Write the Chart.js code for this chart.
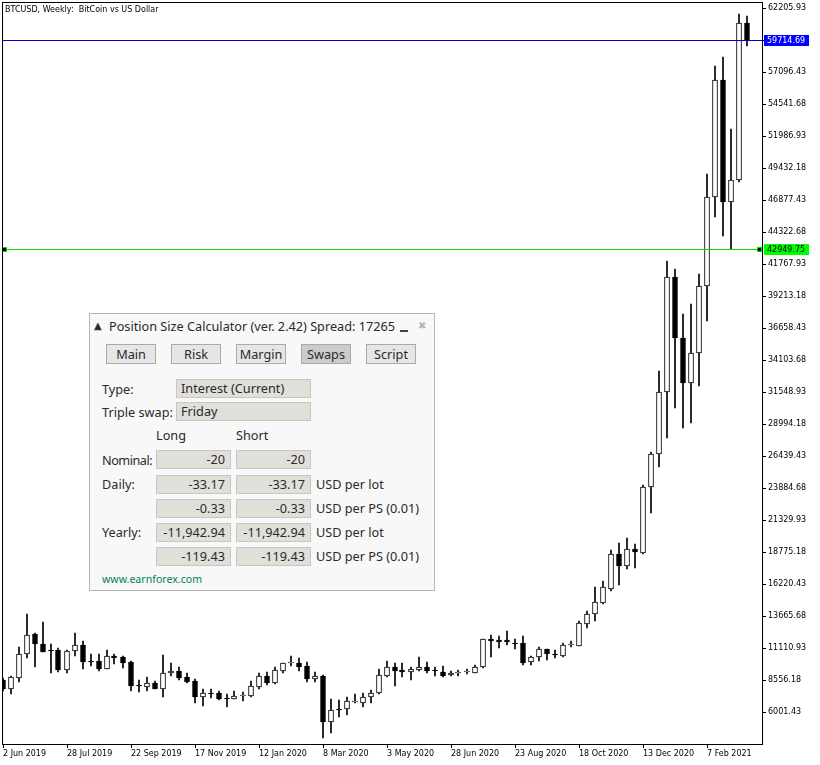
<!DOCTYPE html>
<html>
<head>
<meta charset="utf-8">
<title>BTCUSD, Weekly</title>
<script src="https://cdn.jsdelivr.net/npm/chart.js@4.4.1/dist/chart.umd.min.js"></script>
<style>
  html, body { margin: 0; padding: 0; background: #fff; }
  #wrap { position: relative; width: 820px; height: 765px; overflow: hidden; }
  #chart { position: absolute; left: 0; top: 0; }
  .panel { position: absolute; left: 89px; top: 313px; width: 346px; height: 278px; box-sizing: border-box;
           background: #f8f8f8; border: 1px solid #b4b4b4; }
  .t, .btn, .fld { position: absolute; white-space: nowrap; font-family: "Noto Sans", sans-serif;
                   font-size: 12.7px; color: #2a2a2a; }
  .t { line-height: 16px; }
  .btn { box-sizing: border-box; height: 20px; width: 50px; line-height: 18px; text-align: center;
         background: #e6e6e6; border: 1px solid #aaa; }
  .btn.on { background: #cbcbcb; }
  .fld { box-sizing: border-box; height: 19px; line-height: 17px; background: #e0dfd8; border: 1px solid #c6c6c6; }
  .fld.txt { padding-left: 4px; width: 135px; left: 176px; }
  .fld.num { text-align: right; padding-right: 5px; width: 75px; }
  .url { color: #00805c; font-size: 10.6px; }
</style>
</head>
<body>
<div id="wrap">
  <canvas id="chart" width="820" height="765"></canvas>

  <div class="panel"></div>
  <div class="t" style="left:94px;top:318px;font-family:'DejaVu Sans';font-size:10px;">▲</div>
  <div class="t" style="left:109px;top:318px;">Position Size Calculator (ver. 2.42) Spread: 17265</div>
  <div style="position:absolute;left:400px;top:330px;width:8px;height:2px;background:#444;"></div>
  <div class="t" style="left:418px;top:318px;font-family:'DejaVu Sans';font-size:10px;color:#b4b4b4;">✖</div>

  <div class="btn" style="left:106px;top:344px;">Main</div>
  <div class="btn" style="left:171px;top:344px;">Risk</div>
  <div class="btn" style="left:236px;top:344px;">Margin</div>
  <div class="btn on" style="left:301px;top:344px;">Swaps</div>
  <div class="btn" style="left:366px;top:344px;">Script</div>

  <div class="t" style="left:102px;top:381px;">Type:</div>
  <div class="fld txt" style="top:379px;">Interest (Current)</div>
  <div class="t" style="left:102px;top:404px;">Triple swap:</div>
  <div class="fld txt" style="top:402px;">Friday</div>

  <div class="t" style="left:156px;top:427px;">Long</div>
  <div class="t" style="left:236px;top:427px;">Short</div>

  <div class="t" style="left:102px;top:452px;letter-spacing:-0.5px;">Nominal:</div>
  <div class="fld num" style="left:156px;top:450px;">-20</div>
  <div class="fld num" style="left:236px;top:450px;">-20</div>

  <div class="t" style="left:102px;top:476px;">Daily:</div>
  <div class="fld num" style="left:156px;top:475px;">-33.17</div>
  <div class="fld num" style="left:236px;top:475px;">-33.17</div>
  <div class="t" style="left:316px;top:476px;">USD per lot</div>

  <div class="fld num" style="left:156px;top:499px;">-0.33</div>
  <div class="fld num" style="left:236px;top:499px;">-0.33</div>
  <div class="t" style="left:316px;top:500px;">USD per PS (0.01)</div>

  <div class="t" style="left:102px;top:524px;">Yearly:</div>
  <div class="fld num" style="left:156px;top:523px;">-11,942.94</div>
  <div class="fld num" style="left:236px;top:523px;">-11,942.94</div>
  <div class="t" style="left:316px;top:524px;">USD per lot</div>

  <div class="fld num" style="left:156px;top:547px;">-119.43</div>
  <div class="fld num" style="left:236px;top:547px;">-119.43</div>
  <div class="t" style="left:316px;top:548px;">USD per PS (0.01)</div>

  <div class="t url" style="left:102px;top:571px;">www.earnforex.com</div>
</div>

<script>
// --- weekly BTCUSD bars, 2 Jun 2019 .. 14 Mar 2021 ---
const OPEN = [
  8580, 7840, 8760, 10630, 12230, 11450, 10940, 10980, 9380, 10870,
  11350, 10100, 10100, 9480, 10470, 10440, 10040, 8140, 8050, 8320,
  7890, 9120, 9300, 8800, 8520, 7250, 7520, 7540, 7140, 7090,
  7340, 7330, 8050, 8900, 8360, 9320, 9900, 9910, 9700, 8640,
  8900, 5250, 6270, 6240, 6830, 6770, 7200, 7520, 8920, 9640,
  9380, 9200, 9380, 9640, 9340, 9250, 8960, 9140, 9180, 9160,
  9580, 11830, 11760, 11770, 11530, 11510, 10040, 10390, 11030, 10620,
  10520, 11360, 11320, 13030, 13830, 14750, 15870, 18620, 17700, 19020,
  18740, 23960, 26620, 31600, 40780, 35860, 32270, 34660, 40040, 47120,
  56480, 46770, 48470, 61010
];
const HIGH = [
  8700, 8900, 11190, 13850, 12300, 13210, 11450, 11110, 10980, 12360,
  11690, 10660, 10660, 10980, 10660, 10500, 10100, 8580, 8800, 8520,
  10580, 9960, 9640, 9120, 8640, 7860, 7840, 7700, 7460, 7700,
  7650, 8500, 9120, 9200, 9590, 9960, 10500, 10310, 10040, 9200,
  8950, 7040, 6980, 7200, 7440, 7520, 7780, 9460, 10100, 9960,
  9960, 9590, 10390, 9990, 9590, 9700, 9300, 9380, 9430, 9780,
  11880, 12170, 12090, 12490, 11850, 12090, 10520, 11240, 11050, 10980,
  11510, 11690, 13270, 14090, 16030, 16480, 18960, 19510, 19890, 19430,
  24150, 26810, 33250, 42030, 41390, 37780, 38600, 40990, 48980, 57600,
  58290, 52550, 61750, 61590
];
const LOW = [
  7700, 7490, 8440, 10310, 9640, 10790, 9120, 9240, 9120, 10500,
  9460, 9700, 9320, 9440, 9880, 9560, 7730, 7650, 7730, 7840,
  7250, 8920, 8580, 8360, 6770, 6530, 7120, 6980, 6400, 7040,
  6900, 7250, 7890, 8180, 8280, 9120, 9700, 9320, 8440, 8400,
  3930, 4370, 5650, 5790, 6720, 6400, 6770, 7480, 8800, 8100,
  8800, 8580, 9320, 9120, 8900, 8800, 8900, 8900, 9060, 9120,
  9560, 10450, 11110, 11410, 11060, 9780, 9780, 10070, 10170, 10370,
  10440, 11180, 11300, 12760, 13300, 14620, 15710, 16180, 17440, 17550,
  18640, 21890, 25610, 27880, 30270, 28720, 29120, 32050, 37270, 45570,
  44030, 42950, 48300, 59220
];
const CLOSE = [
  7840, 8820, 10660, 12170, 11430, 10840, 10860, 9380, 10900, 11370,
  10040, 10040, 9460, 10470, 10360, 9960, 8100, 8080, 8320, 7860,
  9120, 9300, 8760, 8440, 7250, 7520, 7480, 7040, 7100, 7300,
  7370, 8100, 8900, 8360, 9380, 9910, 9930, 9640, 8640, 8900,
  5250, 6190, 6160, 6900, 6870, 7250, 7520, 8980, 9640, 9320,
  9200, 9460, 9640, 9320, 9300, 8920, 9120, 9180, 9230, 9640,
  11830, 11690, 11650, 11580, 11490, 9960, 10390, 11030, 10680, 10580,
  11350, 11390, 13110, 13830, 14780, 16000, 18620, 17700, 19020, 18780,
  23960, 26620, 31600, 40780, 35860, 32270, 34660, 40040, 47120, 56480,
  46770, 48470, 61010, 59714.69
];

// date labels every 8 bars, price labels of the right axis
const DATE_LABELS = ['2 Jun 2019', '28 Jul 2019', '22 Sep 2019', '17 Nov 2019', '12 Jan 2020', '8 Mar 2020',
                     '3 May 2020', '28 Jun 2020', '23 Aug 2020', '18 Oct 2020', '13 Dec 2020', '7 Feb 2021'];
const PRICE_TICKS = [62205.93, 59651.18, 57096.43, 54541.68, 51986.93, 49432.18, 46877.43, 44322.68,
                     41767.93, 39213.18, 36658.43, 34103.68, 31548.93, 28994.18, 26439.43, 23884.68,
                     21329.93, 18775.18, 16220.43, 13665.68, 11110.93, 8556.18, 6001.43];
const BID_PRICE = 59714.69;
const LINE_PRICE = 42949.75;
const TITLE = 'BTCUSD, Weekly:  BitCoin vs US Dollar';

const AXIS_FONT = { family: 'DejaVu Sans', size: 8 };

const bodies = OPEN.map((o, i) => ({ x: i, y: [o, CLOSE[i]] }));
const wicks = LOW.map((l, i) => ({ x: i, y: [l, HIGH[i]] }));
const bodyColors = OPEN.map((o, i) => CLOSE[i] < o ? '#000000' : '#ffffff');

// frame, title, the two horizontal lines and their price tags
const chartDecor = {
  id: 'chartDecor',
  afterDatasetsDraw(chart) {
    const { ctx, chartArea: a, scales: { y } } = chart;
    ctx.save();
    const yg = Math.round(y.getPixelForValue(LINE_PRICE)) + 0.5;
    ctx.strokeStyle = '#00e000';
    ctx.lineWidth = 1;
    ctx.beginPath(); ctx.moveTo(a.left, yg); ctx.lineTo(a.right, yg); ctx.stroke();
    const yb = Math.round(y.getPixelForValue(BID_PRICE)) + 0.5;
    ctx.strokeStyle = '#0000c8';
    ctx.beginPath(); ctx.moveTo(a.left, yb); ctx.lineTo(a.right, yb); ctx.stroke();
    // anchor squares of the selected line
    [a.left, a.right - 5].forEach(x => {
      ctx.fillStyle = '#00e000'; ctx.fillRect(x, yg - 2.5, 5, 5);
      ctx.fillStyle = '#000'; ctx.fillRect(x + 1, yg - 1.5, 3, 3);
    });
    ctx.restore();
  },
  afterDraw(chart) {
    const { ctx, chartArea: a, scales: { y } } = chart;
    ctx.save();
    ctx.strokeStyle = '#000';
    ctx.lineWidth = 1;
    ctx.strokeRect(a.left + 0.5, a.top + 0.5, a.right - a.left, a.bottom - a.top);

    ctx.font = '8px "DejaVu Sans"';
    ctx.textBaseline = 'middle';
    const tag = (price, bg, fg) => {
      const py = Math.round(y.getPixelForValue(price));
      ctx.fillStyle = bg;
      ctx.fillRect(a.right + 2, py - 5, 45, 11);
      ctx.fillStyle = fg;
      ctx.fillText(price.toFixed(2), a.right + 5, py + 0.5);
    };
    tag(BID_PRICE, '#0000ff', '#ffffff');
    tag(LINE_PRICE, '#00ff00', '#000000');

    ctx.fillStyle = '#000';
    ctx.textBaseline = 'alphabetic';
    ctx.fillText(TITLE, 5, 12);
    ctx.restore();
  }
};

const ctx = document.getElementById('chart').getContext('2d');
new Chart(ctx, {
  type: 'bar',
  data: {
    datasets: [
      {
        label: 'body', data: bodies, order: 0, grouped: false, clip: 0,
        barThickness: 5, minBarLength: 1,
        backgroundColor: bodyColors, borderColor: '#000', borderWidth: 1, borderSkipped: false
      },
      {
        label: 'wick', data: wicks, order: 1, grouped: false, clip: 0,
        barThickness: 1, backgroundColor: '#000', borderWidth: 0
      }
    ]
  },
  options: {
    responsive: false,
    animation: false,
    devicePixelRatio: 1,
    layout: { padding: { left: 2, top: 2, right: 0, bottom: 0 } },
    plugins: { legend: { display: false }, tooltip: { enabled: false } },
    scales: {
      x: {
        type: 'linear', position: 'bottom', offset: false,
        min: -0.0625, max: 94.9375,
        alignToPixels: true,
        grid: { offset: false, drawOnChartArea: false, tickLength: 4, color: '#000' },
        border: { display: false },
        afterBuildTicks: s => { s.ticks = DATE_LABELS.map((_, k) => ({ value: k * 8 })); },
        afterFit: s => { s.height = 21; s.paddingLeft = 0; s.paddingRight = 0; },
        ticks: {
          autoSkip: false, maxRotation: 0, align: 'start', padding: 1,
          color: '#000', font: AXIS_FONT,
          callback: (v, idx) => DATE_LABELS[idx]
        }
      },
      y: {
        type: 'linear', position: 'right',
        min: 3470.6, max: 62708.9,
        alignToPixels: true,
        grid: { drawOnChartArea: false, tickLength: 4, color: '#000' },
        border: { display: false },
        afterBuildTicks: s => { s.ticks = PRICE_TICKS.map(v => ({ value: v })); },
        afterFit: s => { s.width = 58; s.paddingTop = 0; s.paddingBottom = 0; },
        ticks: {
          autoSkip: false, padding: 2, color: '#000', font: AXIS_FONT,
          callback: v => v.toFixed(2)
        }
      }
    }
  },
  plugins: [chartDecor]
});
</script>
</body>
</html>
